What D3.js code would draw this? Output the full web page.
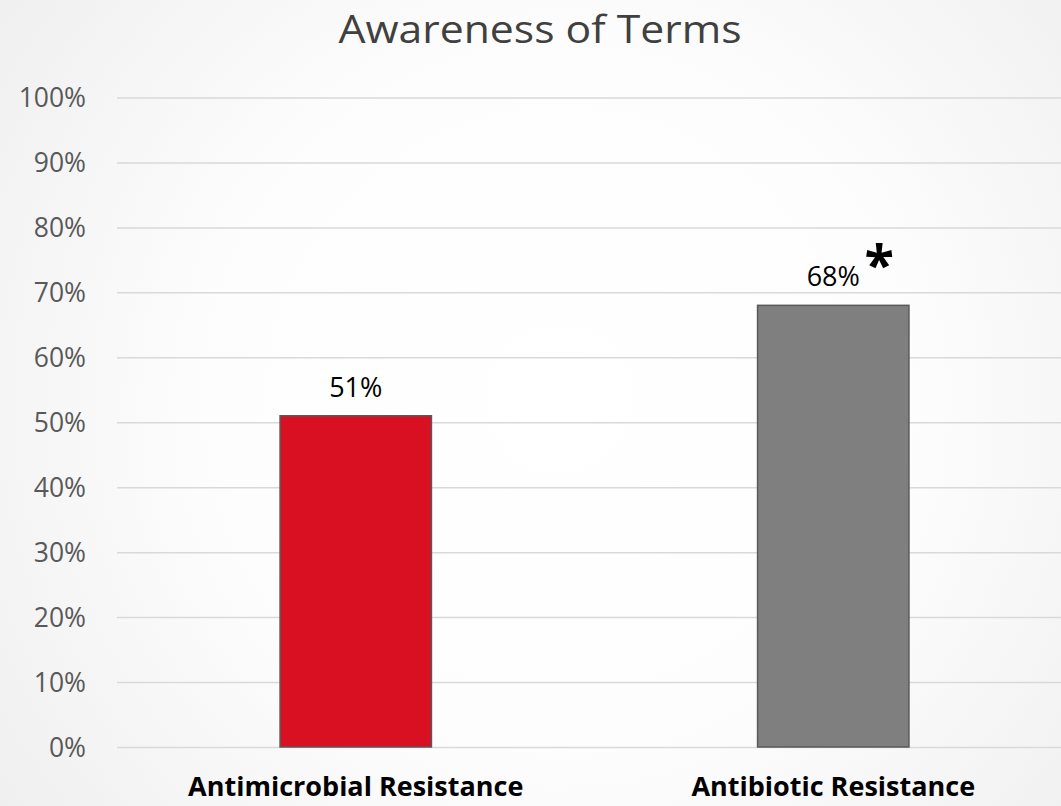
<!DOCTYPE html>
<html><head><meta charset="utf-8">
<script src="https://cdn.jsdelivr.net/npm/d3@7"></script>
<style>html,body{margin:0;padding:0;background:#fff;}svg{display:block;}</style>
</head><body>
<script>
const title = "Awareness of Terms";
const categories = ["Antimicrobial Resistance", "Antibiotic Resistance"];
const values = [0.51, 0.68];
const barColors = ["#D90F22", "#7F7F7F"];
const tickValues = [0, 0.1, 0.2, 0.3, 0.4, 0.5, 0.6, 0.7, 0.8, 0.9, 1.0];
const significance = ["", "*"];

const W = 1061, H = 806;
const svg = d3.select("body").append("svg").attr("width", W).attr("height", H);

const defs = svg.append("defs");
const rg = defs.append("radialGradient").attr("id", "bg")
  .attr("gradientUnits", "userSpaceOnUse")
  .attr("cx", 560).attr("cy", 400).attr("r", 700);
rg.append("stop").attr("offset", "0%").attr("stop-color", "#ffffff");
rg.append("stop").attr("offset", "50%").attr("stop-color", "#fdfdfd");
rg.append("stop").attr("offset", "100%").attr("stop-color", "#efefef");
svg.append("rect").attr("width", W).attr("height", H).attr("fill", "url(#bg)");

const font = "'Open Sans', 'Noto Sans', sans-serif";

const x = d3.scaleBand().domain(categories).range([117, 1072])
  .paddingInner(0.683).paddingOuter(0.3415);
const y = d3.scaleLinear().domain([0, 1]).range([747, 97.5]);

// gridlines
const yAxis = d3.axisLeft(y).tickValues(tickValues).tickFormat(d3.format(".0%"))
  .tickSize(-(W - 117)).tickPadding(31);
const gy = svg.append("g").attr("transform", "translate(117,0)").call(yAxis);
gy.select(".domain").remove();
gy.selectAll(".tick line").attr("stroke", "#D9D9D9").attr("stroke-width", 1.5);
gy.selectAll(".tick text").attr("fill", "#595959").style("font-family", font)
  .style("font-size", "26.5px").attr("dy", "0.34em");

// bars
svg.selectAll("rect.bar").data(categories).enter().append("rect")
  .attr("class", "bar")
  .attr("x", d => x(d))
  .attr("width", x.bandwidth())
  .attr("y", (d, i) => y(values[i]))
  .attr("height", (d, i) => y(0) - y(values[i]))
  .attr("fill", (d, i) => barColors[i])
  .attr("stroke", "#595959").attr("stroke-width", 1.5);

// value labels
svg.selectAll("text.val").data(categories).enter().append("text")
  .attr("class", "val")
  .attr("x", d => x(d) + x.bandwidth() / 2)
  .attr("y", (d, i) => y(values[i]) - 19)
  .attr("text-anchor", "middle")
  .style("font-family", font).style("font-size", "27px").attr("fill", "#000")
  .text((d, i) => Math.round(values[i] * 100) + "%");

// significance asterisk
svg.selectAll("text.sig").data(categories).enter().append("text")
  .attr("class", "sig")
  .attr("x", d => x(d) + x.bandwidth() / 2 + 46)
  .attr("y", (d, i) => y(values[i]) - 21)
  .attr("text-anchor", "middle")
  .style("font-family", font).style("font-size", "54px").style("font-weight", "bold")
  .attr("fill", "#000")
  .text((d, i) => significance[i]);

// category labels
svg.selectAll("text.cat").data(categories).enter().append("text")
  .attr("class", "cat")
  .attr("x", d => x(d) + x.bandwidth() / 2)
  .attr("y", 796)
  .attr("text-anchor", "middle")
  .style("font-family", font).style("font-size", "27px").style("font-weight", "bold")
  .attr("fill", "#000")
  .text(d => d);

// title
svg.append("text").attr("x", 540).attr("y", 43).attr("text-anchor", "middle")
  .style("font-family", font).style("font-size", "39px").style("font-weight", "400")
  .attr("fill", "#404040")
  .attr("textLength", 403).attr("lengthAdjust", "spacingAndGlyphs")
  .text(title);
</script>
</body></html>
